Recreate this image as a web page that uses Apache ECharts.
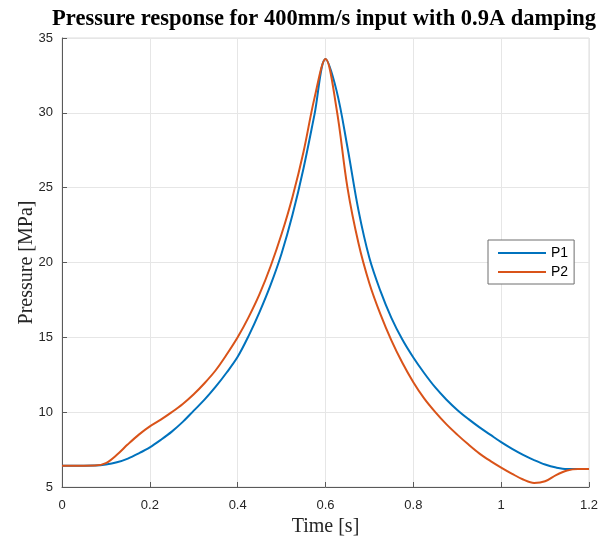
<!DOCTYPE html>
<html>
<head>
<meta charset="utf-8">
<script src="https://cdn.jsdelivr.net/npm/echarts@6/dist/echarts.min.js"></script>
<style>
html, body { margin: 0; padding: 0; background: #fff; }
#chart { width: 606px; height: 537px; }
</style>
</head>
<body>
<div id="chart"></div>
<script>
// time samples [s], every 0.025 s
var times = [0, 0.025, 0.05, 0.075, 0.1, 0.125, 0.15, 0.175, 0.2, 0.225, 0.25, 0.275, 0.3, 0.325, 0.35, 0.375,
    0.4, 0.425, 0.45, 0.475, 0.5, 0.525, 0.55, 0.575, 0.6, 0.625, 0.65, 0.675, 0.7, 0.725, 0.75, 0.775,
    0.8, 0.825, 0.85, 0.875, 0.9, 0.925, 0.95, 0.975, 1.0, 1.025, 1.05, 1.075, 1.1, 1.125, 1.15, 1.175, 1.2];
// pressure [MPa]
var p1 = [6.42, 6.42, 6.42, 6.43, 6.5, 6.65, 6.9, 7.25, 7.65, 8.15, 8.7, 9.35, 10.1, 10.85, 11.7, 12.65,
    13.7, 15.1, 16.7, 18.5, 20.6, 23.2, 26.3, 29.9, 33.6, 31.5, 27.7, 23.5, 20.3, 18.1, 16.3, 14.85,
    13.65, 12.6, 11.65, 10.85, 10.15, 9.55, 9.0, 8.5, 8.0, 7.55, 7.15, 6.8, 6.5, 6.3, 6.2, 6.2, 6.2];
var p2 = [6.42, 6.42, 6.42, 6.43, 6.6, 7.15, 7.85, 8.5, 9.05, 9.5, 10.0, 10.55, 11.2, 11.95, 12.8, 13.85,
    15.0, 16.35, 17.9, 19.75, 21.9, 24.4, 27.4, 31.0, 33.6, 30.3, 25.0, 21.3, 18.6, 16.55, 14.8, 13.3,
    12.0, 10.9, 10.0, 9.2, 8.5, 7.85, 7.25, 6.75, 6.3, 5.88, 5.5, 5.27, 5.38, 5.8, 6.1, 6.2, 6.2];
var xTicks = [0, 0.2, 0.4, 0.6, 0.8, 1, 1.2];
var yTicks = [5, 10, 15, 20, 25, 30, 35];

function pairs(ys) {
    return times.map(function (t, i) { return [t, ys[i]]; });
}

var chart = echarts.init(document.getElementById('chart'));
var axisCommon = {
    axisLine: { lineStyle: { color: '#5a5a5a', width: 1 } },
    axisTick: { inside: true, length: 5, lineStyle: { color: '#5a5a5a' } },
    axisLabel: { color: '#262626', fontFamily: 'Liberation Sans', fontSize: 13 },
    splitLine: { lineStyle: { color: '#e6e6e6', width: 1 } },
    nameMoveOverlap: false,
    nameTextStyle: { fontFamily: 'Liberation Serif', fontSize: 20, color: '#262626' }
};

var option = {
    backgroundColor: '#fff',
    animation: false,
    title: {
        text: 'Pressure response for 400mm/s input with 0.9A damping',
        left: 319,
        textAlign: 'center',
        top: 3,
        textStyle: { fontFamily: 'Liberation Serif', fontWeight: 'bold', fontSize: 22.5, color: '#000' }
    },
    grid: {
        left: 62, right: 17, top: 38, bottom: 50,
        containLabel: false, outerBoundsMode: 'none',
        show: true, borderColor: '#dcdcdc', borderWidth: 1
    },
    legend: {
        left: 488, top: 240, orient: 'vertical',
        data: ['P1', 'P2'],
        icon: 'rect', itemWidth: 48, itemHeight: 2,
        itemGap: 5,
        padding: [6, 6, 5, 10],
        backgroundColor: '#fff',
        borderColor: '#6e6e6e', borderWidth: 1,
        textStyle: { fontFamily: 'Liberation Sans', fontSize: 14, color: '#000' }
    },
    xAxis: Object.assign({}, axisCommon, {
        type: 'value', min: xTicks[0], max: xTicks[xTicks.length - 1], interval: 0.2,
        name: 'Time [s]', nameLocation: 'middle', nameGap: 30,
        axisLabel: Object.assign({}, axisCommon.axisLabel, { margin: 12 })
    }),
    yAxis: Object.assign({}, axisCommon, {
        type: 'value', min: yTicks[0], max: yTicks[yTicks.length - 1], interval: 5,
        name: 'Pressure [MPa]', nameLocation: 'middle', nameGap: 25,
        axisLabel: Object.assign({}, axisCommon.axisLabel, { margin: 9 })
    }),
    series: [
        { name: 'P1', type: 'line', data: pairs(p1), showSymbol: false, smooth: 0.35,
          lineStyle: { color: '#0072BD', width: 2 }, itemStyle: { color: '#0072BD' } },
        { name: 'P2', type: 'line', data: pairs(p2), showSymbol: false, smooth: 0.35,
          lineStyle: { color: '#D95319', width: 2 }, itemStyle: { color: '#D95319' } }
    ]
};
chart.setOption(option);
</script>
</body>
</html>
